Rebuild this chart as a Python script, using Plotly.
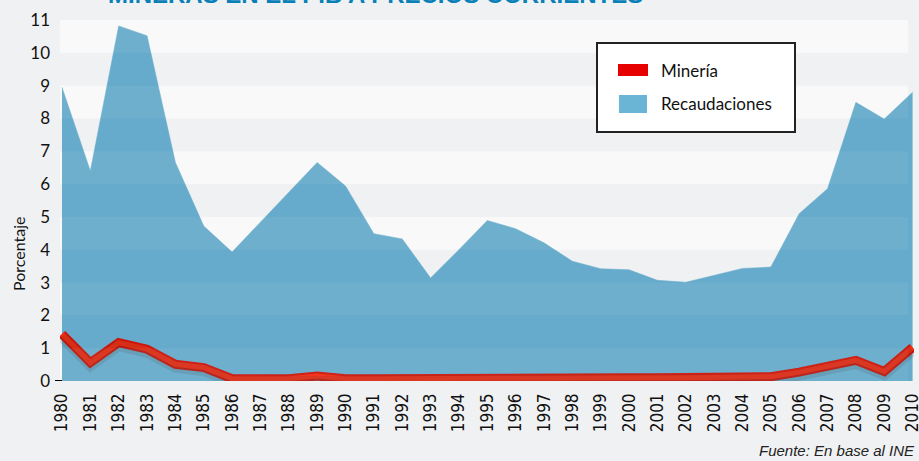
import plotly.graph_objects as go

# Data (% of GDP)
years = list(range(1980, 2011))
recaudaciones = [8.95, 6.40, 10.82, 10.52, 6.66, 4.72, 3.93, 4.85, 5.75, 6.66,
                 5.94, 4.49, 4.33, 3.14, 4.00, 4.89, 4.64, 4.21, 3.65, 3.42,
                 3.39, 3.07, 3.01, 3.23, 3.43, 3.47, 5.10, 5.86, 8.49, 7.98, 8.80]
mineria = [1.43, 0.56, 1.17, 0.97, 0.51, 0.41, 0.07, 0.07, 0.07, 0.15,
           0.07, 0.07, 0.08, 0.08, 0.08, 0.08, 0.08, 0.09, 0.09, 0.09,
           0.10, 0.10, 0.10, 0.10, 0.10, 0.13, 0.27, 0.46, 0.63, 0.29, 1.02]
y_ticks = list(range(0, 12))

W, H = 919, 461
L, R, T, B = 60, 5, 20, 80
bg = "#f0f1f3"
band = "#f9f9fa"
blue = "#66abcb"


def px_x(x):
    return (x - L) / (W - L - R)


def px_y(y):
    return 1 - (y - T) / (H - T - B)


fig = go.Figure()

# shadow of the red line (same data on a slightly shifted axis)
fig.add_trace(go.Scatter(x=years, y=mineria, mode="lines", yaxis="y2",
                         line=dict(color="rgba(60,60,60,0.15)", width=11),
                         hoverinfo="skip", showlegend=False))
fig.add_trace(go.Scatter(x=years, y=recaudaciones, mode="lines", fill="tozeroy",
                         fillcolor=blue, line=dict(color=blue, width=0.5),
                         name="Recaudaciones", showlegend=False))
fig.add_trace(go.Scatter(x=years, y=mineria, mode="lines",
                         line=dict(color="#cc160b", width=9),
                         hoverinfo="skip", showlegend=False))
fig.add_trace(go.Scatter(x=years, y=mineria, mode="lines",
                         line=dict(color="#f42c12", width=5),
                         name="Minería", showlegend=False))

shapes = []
for k in range(0, 11, 2):
    shapes.append(dict(type="rect", xref="paper", yref="y", x0=0, x1=0.993,
                       y0=k, y1=k + 1, fillcolor=band, line_width=0, layer="below"))
    shapes.append(dict(type="rect", xref="paper", yref="y", x0=0, x1=0.993,
                       y0=k, y1=k + 1, fillcolor="rgba(255,255,255,0.05)",
                       line_width=0, layer="above"))

# x axis base line
shapes.append(dict(type="line", xref="paper", yref="y", x0=px_x(55), x1=px_x(910),
                   y0=0, y1=0, line=dict(color="black", width=2), layer="below"))

# custom legend
shapes.append(dict(type="rect", xref="paper", yref="paper",
                   x0=px_x(597), x1=px_x(795), y0=px_y(132), y1=px_y(43),
                   fillcolor="white", line=dict(color="#222", width=2)))
shapes.append(dict(type="rect", xref="paper", yref="paper",
                   x0=px_x(618), x1=px_x(648), y0=px_y(76), y1=px_y(64),
                   fillcolor="#e60000", line_width=0))
shapes.append(dict(type="rect", xref="paper", yref="paper",
                   x0=px_x(619), x1=px_x(647), y0=px_y(113), y1=px_y(95),
                   fillcolor="#6ab4d6", line_width=0))

annotations = [
    dict(text="Minería", xref="paper", yref="paper", x=px_x(659), y=px_y(70),
         xanchor="left", yanchor="middle", showarrow=False,
         font=dict(family="Lato", size=17, color="#111")),
    dict(text="Recaudaciones", xref="paper", yref="paper", x=px_x(659), y=px_y(103),
         xanchor="left", yanchor="middle", showarrow=False,
         font=dict(family="Lato", size=17, color="#111")),
    dict(text="Porcentaje", xref="paper", yref="paper", x=px_x(18), y=px_y(254),
         xanchor="center", yanchor="middle", textangle=-90, showarrow=False,
         font=dict(family="Lato", size=16, color="#111")),
    dict(text="<i>Fuente: En base al INE</i>", xref="paper", yref="paper",
         x=px_x(917), y=px_y(461), xanchor="right", yanchor="bottom", showarrow=False,
         font=dict(family="Liberation Sans", size=15, color="#222")),
    dict(text="<b>MINERAS EN EL PIB A PRECIOS CORRIENTES</b>", xref="paper", yref="paper",
         x=px_x(375), y=px_y(10), xanchor="center", yanchor="bottom", showarrow=False,
         font=dict(family="Liberation Sans", size=24, color="#0a80b8")),
]

fig.update_layout(
    width=W, height=H,
    margin=dict(l=L, r=R, t=T, b=B, autoexpand=False),
    paper_bgcolor=bg, plot_bgcolor=bg,
    shapes=shapes, annotations=annotations,
    xaxis=dict(range=[1979.93, 2010.05], tickmode="array", tickvals=years,
               ticktext=[str(y) for y in years], tickangle=-90, showgrid=False,
               zeroline=False, showline=False, ticks="", ticklabeloverflow="allow",
               automargin=False, ticklabelstandoff=8,
               tickfont=dict(family="Liberation Sans Narrow, DejaVu Sans Condensed, Lato",
                             size=17, color="#111")),
    yaxis=dict(range=[0, 11], tickvals=y_ticks, showgrid=False, zeroline=False,
               showline=False, ticks="", ticklabelstandoff=9, automargin=False,
               tickfont=dict(family="Lato", size=17, color="#111")),
    yaxis2=dict(range=[0.09, 11.09], overlaying="y", visible=False),
    showlegend=False,
)

fig.write_html("out.html", config={"displayModeBar": False},
               post_script="document.body.style.margin='0';")
